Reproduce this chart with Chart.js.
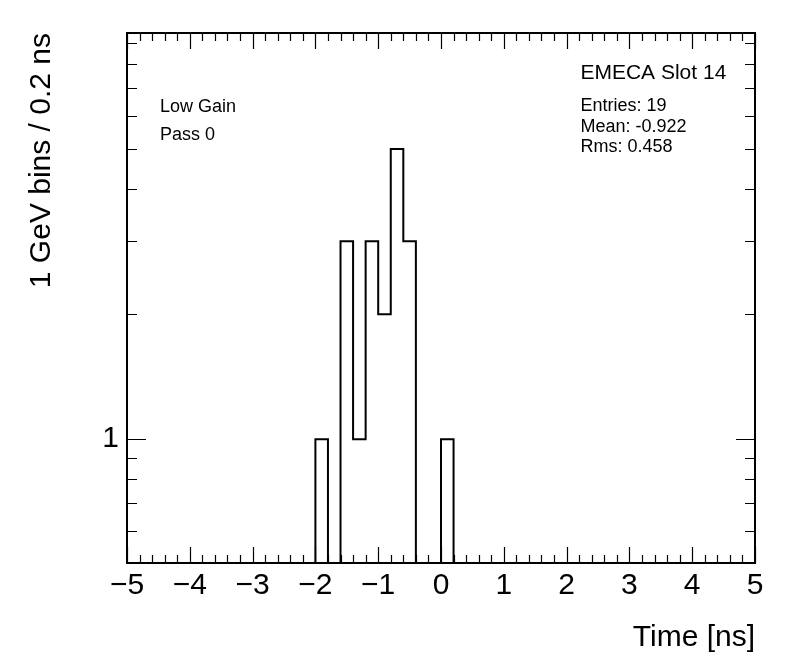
<!DOCTYPE html>
<html><head><meta charset="utf-8">
<script src="https://cdn.jsdelivr.net/npm/chart.js@4/dist/chart.umd.min.js"></script>
<style>html,body{margin:0;padding:0;background:#fff;} canvas{display:block;}</style>
</head><body>
<canvas id="c" width="796" height="672"></canvas>
<script>
// ---- data ----
const binWidth = 0.2;                       // ns per bin
const binLow = [-2.0, -1.8, -1.6, -1.4, -1.2, -1.0, -0.8, -0.6, -0.4, -0.2, 0.0];
const counts = [1, 0, 3, 1, 3, 2, 5, 3, 0, 0, 1];
const xRange = [-5, 5];
const yRange = [0.503, 9.52];
const xTickLabels = [-5, -4, -3, -2, -1, 0, 1, 2, 3, 4, 5];
const xMinorPerMajor = 5;
const yTickLabels = [1];
const yMinorTicks = [0.6, 0.7, 0.8, 0.9, 2, 3, 4, 5, 6, 7, 8, 9];
const xTitle = 'Time [ns]';
const yTitle = '1 GeV bins / 0.2 ns';
const histTitle = 'EMECA Slot 14';
const statsLines = ['Entries: 19', 'Mean: -0.922', 'Rms: 0.458'];
const infoLines = ['Low Gain', 'Pass 0'];

const FONT = '"Liberation Sans", Arial, Helvetica, sans-serif';

// histogram outline points (value held from bin low edge to next edge)
const pts = [{x: xRange[0], y: yRange[0]}];
binLow.forEach((lo, i) => pts.push({x: lo, y: counts[i] > 0 ? counts[i] : yRange[0]}));
pts.push({x: binLow[binLow.length - 1] + binWidth, y: yRange[0]});
pts.push({x: xRange[1], y: yRange[0]});

const minus = v => v < 0 ? '\u2212' + Math.abs(v) : String(v);

const framePlugin = {
  id: 'rootFrame',
  afterDatasetsDraw(chart) {
    const {ctx, chartArea: a, scales: {x, y}} = chart;
    ctx.save();
    ctx.strokeStyle = '#000';
    ctx.lineWidth = 1.2;
    ctx.beginPath();
    // x ticks (bottom and top), inward
    for (let i = 0; i < xTickLabels.length; i++) {
      const v = xTickLabels[i];
      const px = Math.round(x.getPixelForValue(v)) + 0.5;
      ctx.moveTo(px, a.bottom); ctx.lineTo(px, a.bottom - 16);
      ctx.moveTo(px, a.top); ctx.lineTo(px, a.top + 16);
      if (i < xTickLabels.length - 1) {
        const step = (xTickLabels[i + 1] - v) / xMinorPerMajor;
        for (let k = 1; k < xMinorPerMajor; k++) {
          const mx = Math.round(x.getPixelForValue(v + k * step)) + 0.5;
          ctx.moveTo(mx, a.bottom); ctx.lineTo(mx, a.bottom - 8);
          ctx.moveTo(mx, a.top); ctx.lineTo(mx, a.top + 8);
        }
      }
    }
    // y ticks (left and right), inward
    yTickLabels.forEach(v => {
      const py = Math.round(y.getPixelForValue(v)) + 0.5;
      ctx.moveTo(a.left, py); ctx.lineTo(a.left + 19, py);
      ctx.moveTo(a.right, py); ctx.lineTo(a.right - 19, py);
    });
    yMinorTicks.forEach(v => {
      const py = Math.round(y.getPixelForValue(v)) + 0.5;
      ctx.moveTo(a.left, py); ctx.lineTo(a.left + 10, py);
      ctx.moveTo(a.right, py); ctx.lineTo(a.right - 10, py);
    });
    ctx.stroke();
    ctx.lineWidth = 2;
    ctx.strokeRect(a.left, a.top, a.right - a.left, a.bottom - a.top);

    // texts
    ctx.fillStyle = '#000';
    ctx.textBaseline = 'middle';
    ctx.textAlign = 'left';
    const W = a.right - a.left, H = a.bottom - a.top;
    ctx.font = '21px ' + FONT;
    ctx.fillText(histTitle, a.left + W * 0.722, a.top + H * 0.0755);
    ctx.font = '18px ' + FONT;
    statsLines.forEach((t, i) => ctx.fillText(t, a.left + W * 0.722, a.top + H * 0.138 + i * 20.5));
    infoLines.forEach((t, i) => ctx.fillText(t, a.left + W * 0.0525, a.top + H * 0.14 + i * 28));
    ctx.restore();
  }
};

new Chart(document.getElementById('c'), {
  type: 'line',
  data: {
    datasets: [{
      data: pts,
      stepped: true,
      borderColor: '#000',
      borderWidth: 2,
      borderJoinStyle: 'miter',
      borderCapStyle: 'butt',
      pointRadius: 0,
      fill: false,
      tension: 0
    }]
  },
  options: {
    responsive: false,
    animation: false,
    layout: {padding: {top: 33, right: 41, left: 0, bottom: 0}},
    plugins: {legend: {display: false}, tooltip: {enabled: false}},
    scales: {
      x: {
        type: 'linear', min: xRange[0], max: xRange[1],
        grid: {display: false, drawTicks: false},
        border: {display: false},
        afterBuildTicks: s => { s.ticks = xTickLabels.map(v => ({value: v})); },
        afterFit: s => { s.height = 109; },
        ticks: {
          autoSkip: false, maxRotation: 0, padding: 5, color: '#000',
          font: {family: FONT, size: 30},
          callback: v => minus(v)
        },
        title: {
          display: true, text: xTitle, align: 'end', color: '#000',
          font: {family: FONT, size: 30}, padding: {top: 0, bottom: 16}
        }
      },
      y: {
        type: 'logarithmic', min: yRange[0], max: yRange[1],
        grid: {display: false, drawTicks: false},
        border: {display: false},
        afterBuildTicks: s => { s.ticks = yTickLabels.map(v => ({value: v})); },
        afterFit: s => { s.width = 127; },
        ticks: {
          autoSkip: false, padding: 8, color: '#000',
          font: {family: FONT, size: 30},
          callback: v => String(v)
        },
        title: {
          display: true, text: yTitle, align: 'end', color: '#000',
          font: {family: FONT, size: 30}, padding: {top: 24, bottom: 0}
        }
      }
    }
  },
  plugins: [framePlugin]
});
</script>
</body></html>
